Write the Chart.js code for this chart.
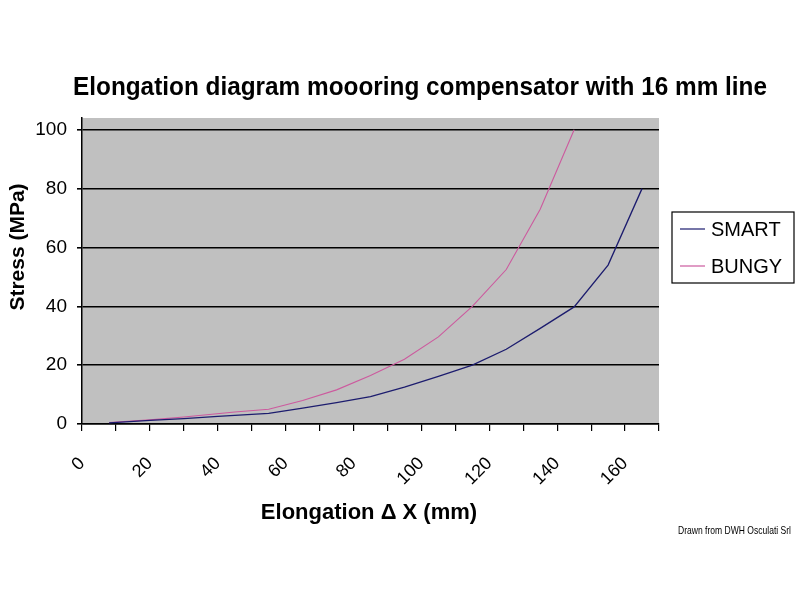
<!DOCTYPE html>
<html>
<head>
<meta charset="utf-8">
<script src="https://cdn.jsdelivr.net/npm/chart.js@4/dist/chart.umd.min.js"></script>
<style>
  html, body { margin: 0; padding: 0; background: #fff; }
  #wrap { width: 800px; height: 600px; }
</style>
</head>
<body>
<div id="wrap"><canvas id="chart" width="800" height="600"></canvas></div>
<script>
// Elongation vs stress
const smartX = [8, 20, 30, 40, 55, 65, 75, 85, 95, 105, 115, 125, 135, 145, 155, 165];
const smartY = [0.4, 1.2, 1.8, 2.6, 3.6, 5.4, 7.3, 9.3, 12.5, 16.2, 20.0, 25.4, 32.5, 39.8, 54.0, 80.0];
const bungyX = [8, 20, 30, 45, 55, 65, 75, 85, 95, 105, 115, 125, 135, 145];
const bungyY = [0.5, 1.4, 2.4, 4.1, 5.0, 8.0, 11.6, 16.5, 22.0, 29.6, 40.0, 52.5, 73.0, 100];

const yTicks = [0, 20, 40, 60, 80, 100];
const xLabelStep = 20;

const FONT = '"Liberation Sans", Arial, sans-serif';

function toPoints(xs, ys) {
  return xs.map((x, i) => ({ x: x, y: ys[i] }));
}

// Gray plot area, titles, boxed legend and footer note
const decorPlugin = {
  id: 'decor',
  beforeDraw(chart) {
    const { ctx, chartArea: a } = chart;
    ctx.save();
    ctx.fillStyle = '#c0c0c0';
    ctx.fillRect(a.left, a.top, a.right - a.left, a.bottom - a.top);
    ctx.restore();
  },
  afterDraw(chart) {
    const ctx = chart.ctx;
    ctx.save();
    ctx.fillStyle = '#000';
    ctx.textBaseline = 'middle';

    // main title
    ctx.textAlign = 'center';
    ctx.font = 'bold 25px ' + FONT;
    ctx.fillText('Elongation diagram moooring compensator with 16 mm line', 420, 88, 694);

    // x axis title
    ctx.font = 'bold 22px ' + FONT;
    ctx.fillText('Elongation \u0394 X (mm)', 369, 513, 218);

    // y axis title
    ctx.save();
    ctx.translate(18, 247);
    ctx.rotate(-Math.PI / 2);
    ctx.font = 'bold 21px ' + FONT;
    ctx.fillText('Stress (MPa)', 0, 0, 130);
    ctx.restore();

    // footer
    ctx.textAlign = 'left';
    ctx.font = '11px ' + FONT;
    ctx.fillText('Drawn from DWH Osculati Srl', 678, 531, 113);

    // legend box
    ctx.fillStyle = '#fff';
    ctx.fillRect(672, 212, 122, 71);
    ctx.strokeStyle = '#000';
    ctx.lineWidth = 1.2;
    ctx.strokeRect(672, 212, 122, 71);
    ctx.font = '20px ' + FONT;
    chart.data.datasets.forEach((ds, i) => {
      const y = 229 + i * 37;
      ctx.strokeStyle = ds.borderColor;
      ctx.lineWidth = 1.2;
      ctx.beginPath();
      ctx.moveTo(680, y);
      ctx.lineTo(705, y);
      ctx.stroke();
      ctx.fillStyle = '#000';
      ctx.fillText(ds.label, 711, y + 1, 77);
    });
    ctx.restore();
  }
};

Chart.defaults.font.family = FONT;
Chart.defaults.color = '#000';

new Chart(document.getElementById('chart'), {
  type: 'scatter',
  data: {
    datasets: [
      {
        label: 'SMART',
        data: toPoints(smartX, smartY),
        showLine: true,
        borderColor: '#1c1c6e',
        borderWidth: 1.3,
        pointRadius: 0,
        tension: 0
      },
      {
        label: 'BUNGY',
        data: toPoints(bungyX, bungyY),
        showLine: true,
        borderColor: '#cc5a9e',
        borderWidth: 1.1,
        pointRadius: 0,
        tension: 0
      }
    ]
  },
  options: {
    responsive: false,
    animation: false,
    layout: { padding: { left: 0, top: 118, right: 141, bottom: 0 } },
    plugins: {
      legend: { display: false },
      tooltip: { enabled: false }
    },
    scales: {
      x: {
        type: 'linear',
        min: 0,
        max: 170,
        afterFit(scale) { scale.height = 176; },
        ticks: {
          stepSize: 10,
          autoSkip: false,
          minRotation: 45,
          maxRotation: 45,
          padding: 22,
          font: { size: 18 },
          callback: (v) => (v % xLabelStep === 0 && v <= 160 ? v : '')
        },
        grid: { drawOnChartArea: false, drawTicks: true, tickLength: 7, color: '#000', lineWidth: 1.2 },
        border: { color: '#000', width: 1.5 }
      },
      y: {
        type: 'linear',
        min: 0,
        max: 104,
        afterFit(scale) { scale.width = 82; },
        afterBuildTicks(scale) { scale.ticks = yTicks.map(v => ({ value: v })); },
        ticks: { padding: 10, font: { size: 19 } },
        grid: { color: '#000', lineWidth: 1.6, tickLength: 5 },
        border: { color: '#000', width: 1.5 }
      }
    }
  },
  plugins: [decorPlugin]
});
</script>
</body>
</html>
